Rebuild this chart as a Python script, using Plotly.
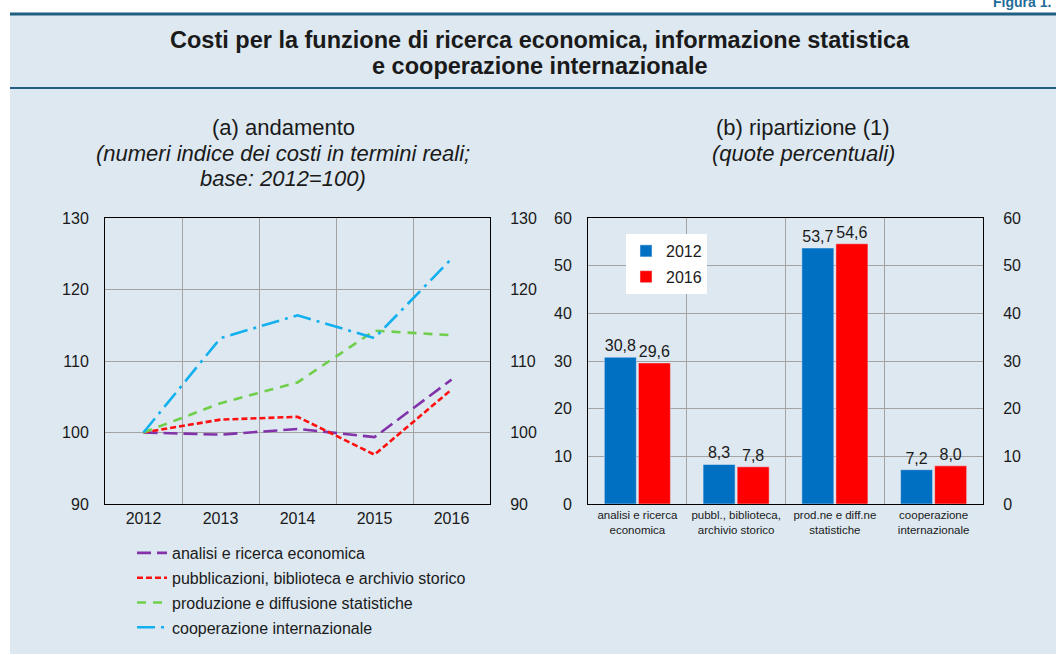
import plotly.graph_objects as go

W, H = 1056, 655

# ---- data ----
years = ["2012", "2013", "2014", "2015", "2016"]
analisi = [100, 99.7, 100.5, 99.35, 107.4]
pubblicazioni = [100, 101.8, 102.2, 96.9, 106.0]
produzione = [100, 104.1, 107.0, 114.25, 113.6]
cooperazione = [100, 113.2, 116.4, 113.2, 124.3]

line_names = [
    "analisi e ricerca economica",
    "pubblicazioni, biblioteca e archivio storico",
    "produzione e diffusione statistiche",
    "cooperazione internazionale",
]

bar_categories = [
    "analisi e ricerca<br>economica",
    "pubbl., biblioteca,<br>archivio storico",
    "prod.ne e diff.ne<br>statistiche",
    "cooperazione<br>internazionale",
]
share_2012 = [30.8, 8.3, 53.7, 7.2]
share_2016 = [29.6, 7.8, 54.6, 8.0]

FONT = "Liberation Sans, Arial, Helvetica, sans-serif"
TXT = "#1a1a1a"
BAND = "#DDE8F1"
DARK = "#1F5F82"
GRID = "#A3A3A3"


def px(x):
    return x / W


def py(y):
    return 1 - y / H


fig = go.Figure()

styles = [
    ("#8233AA", "14px,6px"),
    ("#FF1010", "6px,3px"),
    ("#70CF4A", "9px,7px"),
    ("#12B0EE", "18px,6px,3px,6px"),
]
for i, (vals, name) in enumerate(zip([analisi, pubblicazioni, produzione, cooperazione], line_names)):
    col, dash = styles[i]
    fig.add_trace(go.Scatter(
        x=years, y=vals, name=name, mode="lines",
        line=dict(color=col, width=2.6, dash=dash),
        xaxis="x", yaxis="y", legend="legend", legendgroup=f"g{i}",
    ))

# invisible companions so the right-hand mirrored axes are drawn
fig.add_trace(go.Scatter(x=years, y=analisi, mode="lines", line=dict(width=0),
                         opacity=0, showlegend=False, hoverinfo="skip",
                         xaxis="x", yaxis="y3"))

fig.add_trace(go.Bar(
    x=bar_categories, y=share_2012, name="2012", marker_color="#0070C3",
    texttemplate="%{y:.1f}", textposition="outside", cliponaxis=False,
    textfont=dict(size=16, color=TXT, family=FONT),
    xaxis="x2", yaxis="y2", legend="legend2", legendgroup="b1",
))
fig.add_trace(go.Bar(
    x=bar_categories, y=share_2016, name="2016", marker_color="#FF0000",
    texttemplate="%{y:.1f}", textposition="outside", cliponaxis=False,
    textfont=dict(size=16, color=TXT, family=FONT),
    xaxis="x2", yaxis="y2", legend="legend2", legendgroup="b2",
))
fig.add_trace(go.Scatter(x=bar_categories, y=share_2012, mode="lines", line=dict(width=0),
                         opacity=0, showlegend=False, hoverinfo="skip",
                         xaxis="x2", yaxis="y4"))

dom_y = [py(504), py(218)]
axis_common = dict(showline=True, linecolor="black", linewidth=1, mirror=True,
                   gridcolor=GRID, gridwidth=1, zeroline=False)
tf = dict(size=16, color=TXT, family=FONT)

fig.update_layout(
    width=W, height=H,
    margin=dict(l=0, r=0, t=0, b=0, autoexpand=False),
    paper_bgcolor="white", plot_bgcolor="white",
    separators=",.",
    font=dict(family=FONT, color=TXT),
    barmode="group", bargap=0.31, bargroupgap=0.06,
    xaxis=dict(domain=[px(105), px(490)], type="category", tickson="boundaries",
               range=[-0.5, 4.5], ticks="outside", ticklen=8, tickcolor="rgba(0,0,0,0)",
               tickfont=tf, anchor="y", **axis_common),
    yaxis=dict(domain=dom_y, range=[90, 130], dtick=10, anchor="x",
               ticks="outside", ticklen=12, tickcolor="rgba(0,0,0,0)",
               tickfont=tf, **axis_common),
    yaxis3=dict(overlaying="y", side="right", anchor="x", range=[90, 130], dtick=10,
                showgrid=False, showline=False, zeroline=False,
                ticks="outside", ticklen=16, tickcolor="rgba(0,0,0,0)", tickfont=tf),
    xaxis2=dict(domain=[px(588), px(983)], type="category", tickson="boundaries",
                range=[-0.5, 3.5], ticks="outside", ticklen=3, tickcolor="rgba(0,0,0,0)",
                anchor="y2", tickfont=dict(size=11.5, color=TXT, family=FONT), **axis_common),
    yaxis2=dict(domain=dom_y, range=[0, 60], dtick=10, anchor="x2",
                ticks="outside", ticklen=12, tickcolor="rgba(0,0,0,0)",
                tickfont=tf, **axis_common),
    yaxis4=dict(overlaying="y2", side="right", anchor="x2", range=[0, 60], dtick=10,
                showgrid=False, showline=False, zeroline=False,
                ticks="outside", ticklen=16, tickcolor="rgba(0,0,0,0)", tickfont=tf),
    legend=dict(x=px(132), y=py(536), xanchor="left", yanchor="top",
                bgcolor="rgba(0,0,0,0)", font=tf,
                tracegroupgap=1, itemwidth=30),
    legend2=dict(x=px(626), y=py(234), xanchor="left", yanchor="top",
                 bgcolor="white", font=dict(size=16, color=TXT, family=FONT),
                 tracegroupgap=2, itemwidth=30),
    showlegend=True,
)

# background band and rules
fig.add_shape(type="rect", xref="paper", yref="paper", x0=px(10), x1=1, y0=py(654), y1=py(14),
              fillcolor=BAND, line_width=0, layer="below")
for yy, wdt in [(14, 3), (88, 2)]:
    fig.add_shape(type="line", xref="paper", yref="paper", x0=px(10), x1=1, y0=py(yy), y1=py(yy),
                  line=dict(color=DARK, width=wdt), layer="below")


def ann(text, x, y, size, **kw):
    fig.add_annotation(text=text, x=px(x), y=py(y), xref="paper", yref="paper",
                       showarrow=False, font=dict(size=size, color=kw.pop("color", TXT), family=FONT),
                       xanchor=kw.pop("xanchor", "center"), yanchor="middle", **kw)


ann("<b>Figura 1.</b>", 1053, 2, 14, color="#1F6C99", xanchor="right")
ann("<b>Costi per la funzione di ricerca economica, informazione statistica</b>", 540, 40, 23.5)
ann("<b>e cooperazione internazionale</b>", 540, 66, 23.5)
ann("(a) andamento", 283, 128, 22)
ann("<i>(numeri indice dei costi in termini reali;</i>", 283, 153, 22)
ann("<i>base: 2012=100)</i>", 283, 178, 22)
ann("(b) ripartizione (1)", 803, 128, 22)
ann("<i>(quote percentuali)</i>", 803, 153, 22)

fig.write_html(
    "out.html",
    config={"displayModeBar": False},
    post_script="document.body.style.margin='0px';document.body.style.overflow='hidden';",
)
